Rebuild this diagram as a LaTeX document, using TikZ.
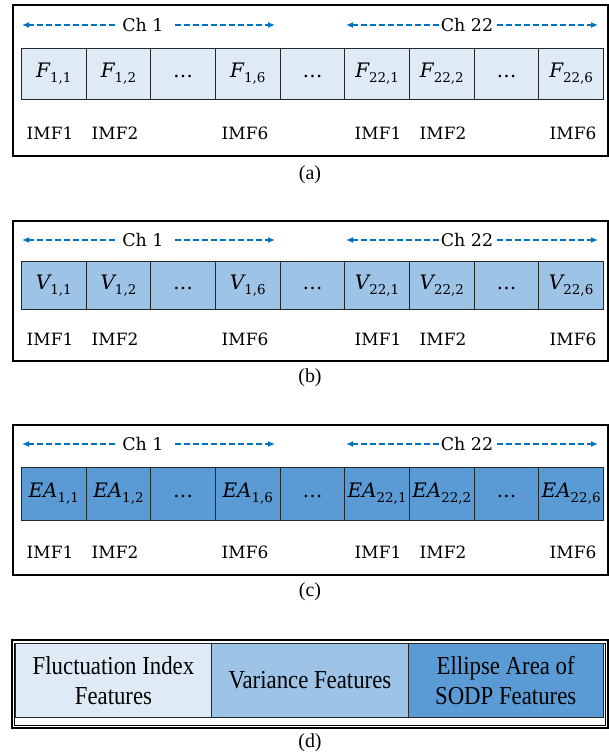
\documentclass[tikz,border=0pt]{standalone}
\usepackage{fontspec}
\usetikzlibrary{arrows.meta}
\newfontfamily\tnr{Liberation Serif}
\newfontfamily\tnrc[FakeStretch=0.88]{Liberation Serif}
\newfontfamily\dvs{DejaVu Serif}
\newcommand\subv[2]{{\itshape #1}\raisebox{-5bp}{\fontsize{13.5}{14}\selectfont #2}}
\newcommand\celldots{\vphantom{\subv{F}{1,1}}\ldots}
\definecolor{cA}{HTML}{DEEBF7}
\definecolor{cB}{HTML}{9DC3E6}
\definecolor{cC}{HTML}{5B9BD5}
\definecolor{chblue}{HTML}{0070C0}
\tikzset{
  panelbox/.style={draw=black, line width=1.6bp, inner sep=0pt, anchor=north west, minimum width=595bp},
  cellbox/.style={draw=black!85, line width=0.9bp, inner sep=0pt, anchor=north west, minimum width=64.67bp,
    font=\dvs\fontsize{20}{22}\selectfont},
  imflabel/.style={font=\dvs\fontsize{17}{22}\selectfont, inner sep=0pt},
  chlabel/.style={font=\dvs\fontsize{17.5}{22}\selectfont, inner sep=0pt},
  charrow/.style={draw=chblue, line width=1.8bp, dash pattern=on 6bp off 3bp, -{Latex[length=7bp,width=6bp]}},
  caplabel/.style={font=\tnr\fontsize{20}{22}\selectfont, inner sep=0pt},
  featbox/.style={draw=black!85, line width=0.9bp, inner sep=0pt, anchor=north west, minimum width=197bp,
    minimum height=74bp, align=center, font=\tnrc\fontsize{26}{30}\selectfont},
}
\begin{document}
\begin{tikzpicture}[x=1bp,y=-1bp]
\useasboundingbox (0,0) rectangle (609,756);

% ---------- panel (a)
\node[panelbox, minimum height=151bp] (pa) at (12,4) {};
\foreach \t [count=\n] in {{\subv{F}{1,1}},{\subv{F}{1,2}},{\celldots},{\subv{F}{1,6}},{\celldots},{\subv{F}{22,1}},{\subv{F}{22,2}},{\celldots},{\subv{F}{22,6}}}
  \node[cellbox, fill=cA, minimum height=51bp] (a\n) at ({21+(\n-1)*64.67},48) {\t};
\foreach \x/\t [count=\n] in {50/IMF1,115/IMF2,245/IMF6,378/IMF1,443/IMF2,573/IMF6}
  \node[imflabel] (ia\n) at (\x,133) {\t};
\node[chlabel] (ach1) at (143,25) {Ch 1};
\node[chlabel] (ach22) at (467,25) {Ch 22};
\coordinate (aL1) at (22,25); \coordinate (aL1s) at (115,25);
\coordinate (aR1) at (275,25); \coordinate (aR1s) at (175,25);
\coordinate (aL2) at (346,25); \coordinate (aL2s) at (439,25);
\coordinate (aR2) at (598,25); \coordinate (aR2s) at (497,25);
\draw[charrow] (aL1s) -- (aL1);
\draw[charrow] (aR1s) -- (aR1);
\draw[charrow] (aL2s) -- (aL2);
\draw[charrow] (aR2s) -- (aR2);
\node[caplabel] (capa) at (310,175) {(a)};

% ---------- panel (b)
\node[panelbox, minimum height=140bp] (pb) at (12,220) {};
\foreach \t [count=\n] in {{\subv{V}{1,1}},{\subv{V}{1,2}},{\celldots},{\subv{V}{1,6}},{\celldots},{\subv{V}{22,1}},{\subv{V}{22,2}},{\celldots},{\subv{V}{22,6}}}
  \node[cellbox, fill=cB, minimum height=48bp] (b\n) at ({21+(\n-1)*64.67},261) {\t};
\foreach \x/\t [count=\n] in {50/IMF1,115/IMF2,245/IMF6,378/IMF1,443/IMF2,573/IMF6}
  \node[imflabel] (ib\n) at (\x,339) {\t};
\node[chlabel] (bch1) at (143,240) {Ch 1};
\node[chlabel] (bch22) at (467,240) {Ch 22};
\coordinate (bL1) at (22,240); \coordinate (bL1s) at (115,240);
\coordinate (bR1) at (275,240); \coordinate (bR1s) at (175,240);
\coordinate (bL2) at (346,240); \coordinate (bL2s) at (439,240);
\coordinate (bR2) at (598,240); \coordinate (bR2s) at (497,240);
\draw[charrow] (bL1s) -- (bL1);
\draw[charrow] (bR1s) -- (bR1);
\draw[charrow] (bL2s) -- (bL2);
\draw[charrow] (bR2s) -- (bR2);
\node[caplabel] (capb) at (310,378) {(b)};

% ---------- panel (c)
\node[panelbox, minimum height=150bp] (pc) at (12,424) {};
\foreach \t [count=\n] in {{\subv{EA}{1,1}},{\subv{EA}{1,2}},{\celldots},{\subv{EA}{1,6}},{\celldots},{\subv{EA}{22,1}},{\subv{EA}{22,2}},{\celldots},{\subv{EA}{22,6}}}
  \node[cellbox, fill=cC, minimum height=53bp] (c\n) at ({21+(\n-1)*64.67},467) {\t};
\foreach \x/\t [count=\n] in {50/IMF1,115/IMF2,245/IMF6,378/IMF1,443/IMF2,573/IMF6}
  \node[imflabel] (ic\n) at (\x,552) {\t};
\node[chlabel] (cch1) at (143,444) {Ch 1};
\node[chlabel] (cch22) at (467,444) {Ch 22};
\coordinate (cL1) at (22,444); \coordinate (cL1s) at (115,444);
\coordinate (cR1) at (275,444); \coordinate (cR1s) at (175,444);
\coordinate (cL2) at (346,444); \coordinate (cL2s) at (439,444);
\coordinate (cR2) at (598,444); \coordinate (cR2s) at (497,444);
\draw[charrow] (cL1s) -- (cL1);
\draw[charrow] (cR1s) -- (cR1);
\draw[charrow] (cL2s) -- (cL2);
\draw[charrow] (cR2s) -- (cR2);
\node[caplabel] (capc) at (310,592) {(c)};

% ---------- panel (d)
\draw[line width=1.3bp] (12,640) rectangle (608,728);
\draw[line width=0.8bp] (14.5,643) rectangle (605.5,725.5);
\node[featbox, fill=cA] (d1) at (14.5,643) {Fluctuation Index\\Features};
\node[featbox, fill=cB] (d2) at (211,643) {Variance Features};
\node[featbox, fill=cC, minimum width=194.5bp] (d3) at (408,643) {Ellipse Area of\\SODP Features};
\node[caplabel] (capd) at (310,743) {(d)};
\end{tikzpicture}
\end{document}
